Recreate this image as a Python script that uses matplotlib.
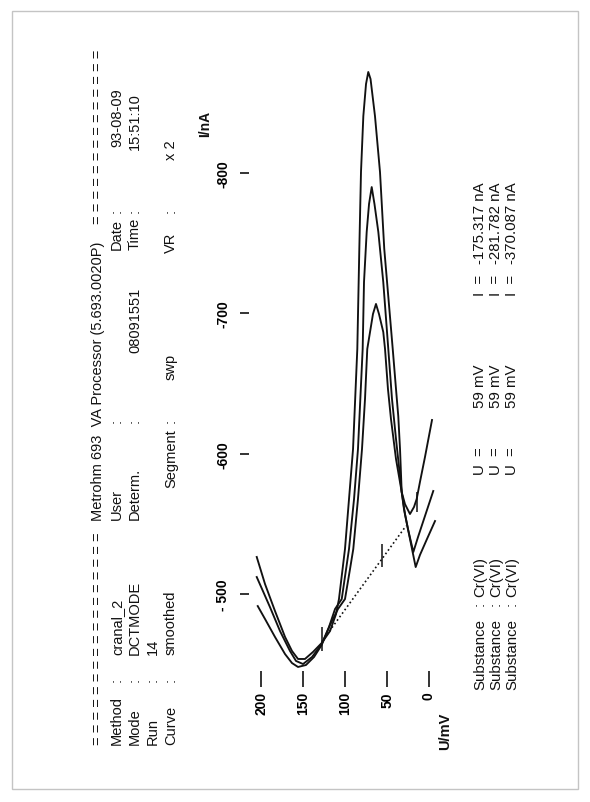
import matplotlib
matplotlib.use("Agg")
import matplotlib.pyplot as plt
from matplotlib.patches import Rectangle

W, H = 590, 803
plt.rcParams['font.family'] = ['Liberation Sans', 'DejaVu Sans']

# three smoothed sweeps, U in mV, I in nA
u_a = [205.7, 195.8, 183.9, 171.9, 163.6, 156.4, 148.1, 138.5, 128.1, 118.2, 111.0, 107.5,
       100.3, 95.5, 90.7, 85.6, 83.2, 81.2, 78.4, 75.2, 72.5, 69.8, 64.5, 58.5, 53.4, 43.3,
       39.4, 36.7, 34.6, 32.6, 28.7, 22.7, 17.9, 14.7, 10.8, 4.8, -3.6]
i_a = [-526.4, -507.1, -487.9, -469.4, -459.4, -453.7, -453.7, -458.7, -465.1, -473.6, -485.7, -496.4,
       -532.1, -567.7, -603.3, -674.6, -745.8, -800.7, -840.6, -863.4, -872.0, -867.0, -840.6, -800.7,
       -745.8, -674.6, -646.1, -626.8, -603.3, -572.7, -564.1, -557.0, -562.0, -567.7, -579.8, -597.6,
       -624.0]

u_b = [205.7, 199.4, 189.9, 177.9, 166.0, 158.8, 150.4, 139.7, 128.1, 119.4, 112.2, 104.2,
       95.5, 89.5, 84.8, 79.2, 77.6, 74.4, 71.6, 68.4, 65.1, 60.5, 54.6, 48.6, 44.2, 39.4,
       32.6, 29.9, 25.1, 18.7, 13.1, 6.0, -5.1]
i_b = [-512.1, -503.6, -490.7, -473.6, -459.4, -452.3, -450.1, -455.1, -464.4, -476.5, -489.3, -496.4,
       -532.1, -567.7, -603.3, -674.6, -722.3, -758.0, -777.9, -790.0, -777.9, -758.0, -722.3, -674.6,
       -639.0, -610.5, -572.7, -560.6, -546.3, -529.9, -540.6, -553.4, -573.4]

u_c = [204.5, 195.8, 183.9, 171.9, 163.6, 156.4, 146.9, 137.3, 128.1, 118.2, 108.7, 100.3,
       94.3, 90.4, 84.8, 80.0, 76.4, 73.7, 70.4, 66.9, 63.3, 59.7, 54.6, 52.5, 49.0, 45.4,
       39.4, 32.6, 28.7, 22.7, 15.9, 10.8, 2.4, -7.2]
i_c = [-491.4, -482.2, -469.4, -457.2, -450.8, -448.0, -449.4, -455.1, -463.7, -477.9, -489.3, -496.4,
       -517.8, -532.1, -567.7, -603.3, -639.0, -674.6, -686.7, -699.5, -706.7, -699.5, -686.7, -674.6,
       -646.1, -624.7, -596.2, -572.7, -557.0, -539.2, -519.2, -527.8, -539.2, -552.0]

# baseline and its markers
base_u = [128.1, 27.5]
base_i = [-466.0, -548.5]
mark_u = [128.1, 56.4, 14.7]
mark_lo = [-476.5, -535.6, -572.7]
mark_hi = [-459.4, -519.2, -558.4]

u_ticks = [200, 150, 100, 50, 0]
i_ticks = [-500, -600, -700, -800]
i_labels = ['- 500', '-600', '-700', '-800']

substance = ['Cr(VI)', 'Cr(VI)', 'Cr(VI)']
peak_u = ['59 mV', '59 mV', '59 mV']
peak_i = ['-175.317 nA', '-281.782 nA', '-370.087 nA']

fig = plt.figure(figsize=(W / 100, H / 100), dpi=100)
fig.patch.set_facecolor('white')


def put(x, y, s, size=10.5, weight='normal', ha='left'):
    # text printed sideways, x/y in page pixels, y = where the text starts
    fig.text(x / W, 1 - y / H, s, rotation=90, rotation_mode='anchor',
             ha=ha, va='center', fontsize=size, fontweight=weight, color='#111111')


ax = fig.add_axes([240 / W, 1 - 688 / H, (455 - 240) / W, (688 - 60) / H])
ax.set_xlim(225.67, -31.05)
ax.set_ylim(-433.73, -881.25)
ax.patch.set_alpha(0)
for sp in ax.spines.values():
    sp.set_visible(False)

lw = 1.35
ax.plot(u_a, i_a, color='#111111', lw=lw)
ax.plot(u_b, i_b, color='#111111', lw=lw)
ax.plot(u_c, i_c, color='#111111', lw=lw)
ax.plot(base_u, base_i, color='#111111', lw=1.2, ls=(0, (1, 1.6)))
ax.vlines(mark_u, mark_lo, mark_hi, color='#111111', lw=1.1)

ax.set_xticks(u_ticks)
ax.set_xticklabels([str(v) for v in u_ticks])
ax.set_yticks(i_ticks)
ax.set_yticklabels(i_labels)
ax.tick_params(axis='x', direction='in', length=11.5, width=1.2, pad=3, labelsize=10, color='#111111')
ax.tick_params(axis='y', direction='in', length=6.5, width=1.2, pad=7, labelsize=10, color='#111111')
for t in ax.get_xticklabels():
    t.set_rotation(90)
    t.set_fontweight('bold')
    t.set_va('top')
    t.set_ha('center')
for t in ax.get_yticklabels():
    t.set_rotation(90)
    t.set_fontweight('bold')
    t.set_va('center')
    t.set_ha('right')

put(205, 137, 'I/nA', size=10, weight='bold')
put(445, 750, 'U/mV', size=10.5, weight='bold')

# header block
put(98, 745, ' '.join(['='] * 17))
put(98, 521, 'Metrohm 693  VA Processor (5.693.0020P)')
put(98, 224, ' '.join(['='] * 14))

rows = [
    (117, [(745, 'Method'), (682, ':'), (655, 'cranal_2'), (520, 'User'), (423, ':'),
           (250, 'Date'), (213, ':'), (147, '93-08-09')]),
    (135, [(745, 'Mode'), (682, ':'), (655, 'DCTMODE'), (520, 'Determ.'), (423, ':'),
           (353, '08091551'), (250, 'Time'), (213, ':'), (150, '15:51:10')]),
    (153, [(745, 'Run'), (682, ':'), (655, '14')]),
    (171, [(745, 'Curve'), (682, ':'), (655, 'smoothed'), (488, 'Segment'), (423, ':'),
           (380, 'swp'), (253, 'VR'), (213, ':'), (160, 'x 2')]),
]
for x, items in rows:
    for y, s in items:
        put(x, y, s)

# results block
for k, x in enumerate([480, 496, 512]):
    put(x, 690, 'Substance', size=10.8)
    put(x, 606, ':', size=10.8)
    put(x, 597, substance[k], size=10.8)
    put(x, 475, 'U  =', size=10.8)
    put(x, 408, peak_u[k], size=10.8)
    put(x, 296, 'I  =', size=10.8)
    put(x, 264, peak_i[k], size=10.8)

fig.add_artist(Rectangle((12 / W, 1 - 790 / H), (578 - 12) / W, (790 - 12) / H,
                         transform=fig.transFigure, fill=False, ec='#c4c4c4', lw=1.0))

fig.savefig('out.png', dpi=100)
